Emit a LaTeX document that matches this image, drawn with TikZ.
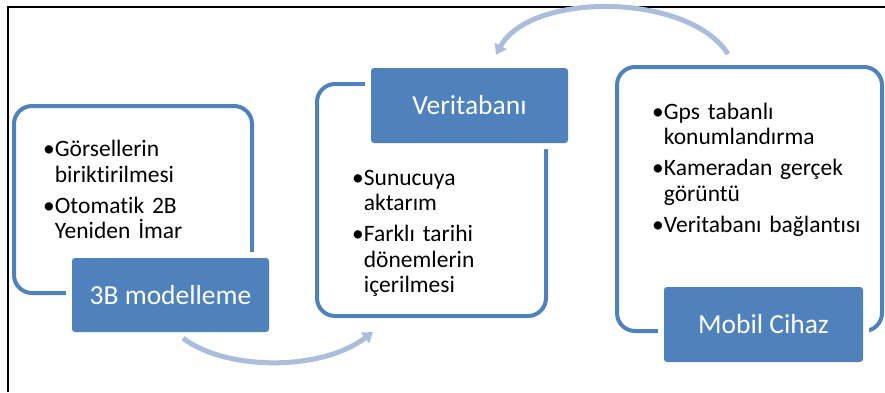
\documentclass[tikz,border=0pt]{standalone}
\usepackage{fontspec}
\setmainfont{Carlito}[Ligatures=NoCommon]
\usepackage{tikz}
\usetikzlibrary{calc}
\usetikzlibrary{arrows.meta}
\definecolor{boxblue}{RGB}{79,129,189}
\definecolor{flowblue}{RGB}{170,189,219}
\tikzset{>=latex}
\newcommand{\bodyfont}{\fontsize{23.5}{25.5}\selectfont}
\newcommand{\headfont}{\fontsize{27.5}{30}\selectfont}

\begin{document}
\begin{tikzpicture}[x=1pt,y=-1pt,
    outline/.style={draw=boxblue, line width=4pt, rounded corners=18pt, inner sep=0pt, outer sep=0pt},
    head/.style={fill=boxblue, rounded corners=3pt, text=white, font=\headfont, inner sep=0pt,
        preaction={draw=white, line width=12pt}},
    bullets/.style={anchor=base west, align=left, text width=215pt, font=\bodyfont, inner sep=0pt},
    flow/.style={draw=flowblue, line width=5pt, -{Triangle[length=10pt,width=13pt]}}]
        \useasboundingbox (0,0) rectangle (885,392);

        % frame
        \draw[line width=1.8pt] (8,392) -- (8,7) -- (885,7);

        % 3B
        \node[outline, minimum width=238pt, minimum height=187pt] (modbox) at (133,199.5) {};
        \node[head, minimum width=197pt, minimum height=74pt] (mod) at (170.5,295) {3B modelleme};
        \node[bullets] (modtext) at (43,156.5) {•Görsellerin\\\phantom{•}biriktirilmesi\\[5.5pt]•Otomatik 2B\\\phantom{•}Yeniden İmar};

        % Veritabani
        \node[outline, minimum width=229pt, minimum height=232pt] (vtbox) at (431.5,200) {};
        \node[head, minimum width=197pt, minimum height=75pt] (vt) at (469.5,105.5) {Veritabanı};
        \node[bullets] (vttext) at (352,185) {•Sunucuya\\\phantom{•}aktarım\\[5.5pt]•Farklı tarihi\\\phantom{•}dönemlerin\\\phantom{•}içerilmesi};

        % Mobil
        \node[outline, minimum width=265pt, minimum height=264pt] (mbbox) at (749.5,199) {};
        \node[head, minimum width=199pt, minimum height=75pt] (mb) at (763.5,324.5) {Mobil Cihaz};
        \node[bullets] (mbtext) at (652,119) {•Gps tabanlı\\\phantom{•}konumlandırma\\[5.5pt]•Kameradan gerçek\\\phantom{•}görüntü\\[5.5pt]•Veritabanı bağlantısı};

        % arrows
        \draw[flow] ([shift={(12.5,6)}]mod.south) .. controls +(42,32) and +(-53,40) .. ([shift={(56,16)}]vtbox.south west);
        \draw[flow] ([shift={(111,-13)}]mbbox.north west) .. controls +(-40,-62) and +(34,-63) .. ([shift={(26.5,-13)}]vt.north);
    \end{tikzpicture}
\end{document}
